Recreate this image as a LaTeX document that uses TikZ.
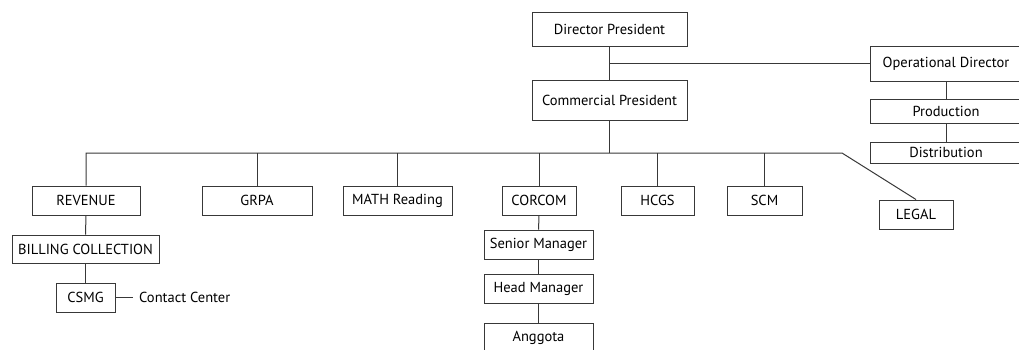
\documentclass[tikz,border=0pt]{standalone}
\usepackage{fontspec}
\setmainfont{PT Sans}
\usepackage{tikz}
\usetikzlibrary{calc}
\definecolor{linegray}{rgb}{0.22,0.22,0.22}

\begin{document}
\begin{tikzpicture}[x=1pt, y=-1pt, font=\fontsize{14.5}{16}\selectfont,
		box/.style={draw=linegray, line width=1pt, inner sep=0pt},
		link/.style={draw=linegray, line width=1pt} ]

		\useasboundingbox (0,0) rectangle (1019,349);

		% top
		\node[box, minimum width=155, minimum height=34] (dirpres) at (609.5,29) {Director President};
		\node[box, minimum width=155, minimum height=40] (compres) at (609.5,100) {Commercial President};
		\node[box, minimum width=152, minimum height=35] (opdir) at (946,63.5) {Operational Director};
		\node[box, minimum width=152, minimum height=24] (prod) at (946,111) {Production};
		\node[box, minimum width=152, minimum height=21] (dist) at (946,152.5) {Distribution};

		\draw[link] (dirpres) -- (compres);
		\draw[link] (dirpres.south |- opdir.west) -- (opdir.west);
		\draw[link] (opdir) -- (prod);
		\draw[link] (prod) -- (dist);

		% departments
		\node[box, minimum width=108, minimum height=29] (revenue) at (86,200.5) {REVENUE};
		\node[box, minimum width=110, minimum height=29] (grpa) at (257,200.5) {GRPA};
		\node[box, minimum width=109, minimum height=29] (math) at (397.5,200.5) {MATH Reading};
		\node[box, minimum width=74, minimum height=29] (corcom) at (539,200.5) {CORCOM};
		\node[box, minimum width=73, minimum height=29] (hcgs) at (657.5,200.5) {HCGS};
		\node[box, minimum width=75, minimum height=29] (scm) at (764.5,200.5) {SCM};
		\node[box, minimum width=74, minimum height=29] (legal) at (916,214.5) {LEGAL};

		\coordinate (busL) at (86,153);
		\coordinate (busR) at (842,153);
		\draw[link] (revenue.north) -- (busL) -- (busR) -- (legal.north);
		\draw[link] (compres) -- (compres.south |- busL);
		\foreach \d in {grpa,math,corcom,hcgs,scm}
			\draw[link] (\d.north) -- (\d.north |- busL);

		% revenue branch
		\node[box, minimum width=147, minimum height=28] (billing) at (85.5,249) {BILLING COLLECTION};
		\node[box, minimum width=59, minimum height=29] (csmg) at (85.5,297.5) {CSMG};
		\node[anchor=west, inner sep=0pt] (contact) at (139,297.5) {Contact Center};
		\draw[link] (revenue) -- (billing);
		\draw[link] (billing) -- (csmg);
		\draw[link] (csmg.east) -- ($(contact.west)+(-6,0)$);

		% corcom branch
		\node[box, minimum width=109, minimum height=29] (senior) at (538.5,244.5) {Senior Manager};
		\node[box, minimum width=109, minimum height=29] (head) at (538.5,288.5) {Head Manager};
		\node[box, minimum width=109, minimum height=30] (anggota) at (538.5,338) {Anggota};
		\draw[link] (corcom) -- (senior);
		\draw[link] (senior) -- (head);
		\draw[link] (head) -- (anggota);
	\end{tikzpicture}
\end{document}
